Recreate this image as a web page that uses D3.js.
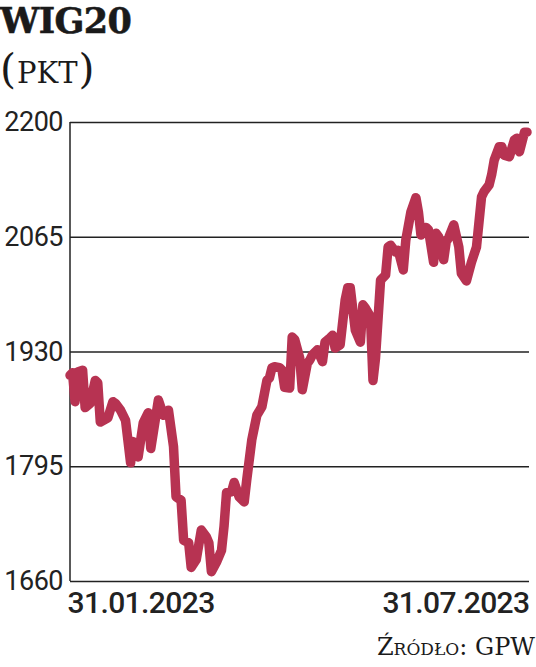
<!DOCTYPE html>
<html>
<head>
<meta charset="utf-8">
<script src="https://cdn.jsdelivr.net/npm/d3@7"></script>
<style>
html,body{margin:0;padding:0;background:#fff;}
svg{display:block;}
</style>
</head>
<body>
<svg id="chart" width="536" height="667"></svg>
<script>
const title = "WIG20";
const unit = "PKT";
const source = "Źródło: GPW";
const yTicks = [1660, 1795, 1930, 2065, 2200];
const xTickLabels = ["2023-01-31", "2023-07-31"];
const dates = [
"2023-01-31","2023-02-01","2023-02-02","2023-02-03","2023-02-05","2023-02-06","2023-02-08","2023-02-10","2023-02-11","2023-02-12",
"2023-02-15","2023-02-17","2023-02-18","2023-02-20","2023-02-22","2023-02-24","2023-02-25","2023-02-26","2023-02-27","2023-03-01",
"2023-03-03","2023-03-04","2023-03-07","2023-03-09","2023-03-11","2023-03-13","2023-03-14","2023-03-16","2023-03-17","2023-03-19",
"2023-03-20","2023-03-22","2023-03-24","2023-03-26","2023-03-27","2023-03-28","2023-03-30","2023-04-01","2023-04-02","2023-04-03",
"2023-04-05","2023-04-06","2023-04-08","2023-04-10","2023-04-11","2023-04-13","2023-04-15","2023-04-17","2023-04-19","2023-04-20",
"2023-04-21","2023-04-22","2023-04-24","2023-04-25","2023-04-26","2023-04-28","2023-04-29","2023-04-30","2023-05-02","2023-05-03",
"2023-05-05","2023-05-06","2023-05-07","2023-05-09","2023-05-11","2023-05-12","2023-05-14","2023-05-15","2023-05-16","2023-05-18",
"2023-05-20","2023-05-21","2023-05-22","2023-05-24","2023-05-26","2023-05-27","2023-05-28","2023-05-30","2023-05-31","2023-06-01",
"2023-06-03","2023-06-05","2023-06-06","2023-06-07","2023-06-09","2023-06-10","2023-06-12","2023-06-13","2023-06-15","2023-06-17",
"2023-06-18","2023-06-19","2023-06-21","2023-06-22","2023-06-24","2023-06-25","2023-06-26","2023-06-28","2023-06-29","2023-06-30",
"2023-07-02","2023-07-04","2023-07-05","2023-07-07","2023-07-09","2023-07-11","2023-07-13","2023-07-14","2023-07-16","2023-07-17",
"2023-07-18","2023-07-20","2023-07-21","2023-07-22","2023-07-24","2023-07-26","2023-07-27","2023-07-28","2023-07-30","2023-07-31"
];
const values = [
1902,1905,1871,1906,1908,1864,1869,1896,1893,1847,
1852,1871,1869,1861,1849,1799,1824,1822,1806,1846,
1858,1816,1873,1855,1861,1818,1759,1755,1708,1705,
1676,1685,1720,1712,1705,1671,1682,1696,1724,1764,
1765,1776,1759,1753,1779,1826,1855,1865,1896,1899,
1911,1912,1911,1908,1888,1887,1947,1944,1922,1885,
1916,1920,1926,1932,1918,1941,1946,1949,1934,1938,
1991,2005,2005,1955,1941,1985,1981,1971,1896,1922,
2014,2020,2053,2055,2047,2049,2026,2061,2094,2111,
2094,2067,2076,2073,2035,2069,2065,2038,2059,2064,
2079,2053,2022,2013,2035,2053,2112,2118,2126,2138,
2155,2171,2171,2161,2159,2179,2181,2165,2188,2188
];

(function () {
const parse = d3.timeParse("%Y-%m-%d");
const fmt = d3.timeFormat("%d.%m.%Y");
const data = dates.map((d, i) => ({date: parse(d), value: values[i]}));

const svg = d3.select("#chart");
const mLeft = 70, mRight = 529, mTop = 122, mBottom = 581;

const x = d3.scaleTime()
  .domain([parse(xTickLabels[0]), parse(xTickLabels[1])])
  .range([mLeft, mRight - 2]);
const y = d3.scaleLinear()
  .domain([yTicks[0], yTicks[yTicks.length - 1]])
  .range([mBottom, mTop]);

// Title
svg.append("text")
  .attr("x", 0).attr("y", 33)
  .attr("font-family", "DejaVu Serif")
  .attr("font-weight", "bold")
  .attr("font-size", 35)
  .attr("fill", "#1a1a1a")
  .attr("stroke", "#1a1a1a")
  .attr("stroke-width", 0.6)
  .attr("letter-spacing", -0.6)
  .text(title);

const sub = svg.append("text")
  .attr("x", 0).attr("y", 83)
  .attr("font-family", "DejaVu Serif")
  .attr("fill", "#1a1a1a");
sub.append("tspan").attr("font-size", 41).text("(");
sub.append("tspan").attr("font-size", 29).attr("dx", 1).text(unit);
sub.append("tspan").attr("font-size", 41).attr("dx", 1).text(")");

// Y axis with gridlines
const yAxis = d3.axisLeft(y)
  .tickValues(yTicks)
  .tickSize(-(mRight - mLeft))
  .tickPadding(7)
  .tickFormat(d3.format("d"));
const gy = svg.append("g")
  .attr("transform", `translate(${mLeft},0)`)
  .call(yAxis);
gy.select(".domain").remove();
gy.selectAll(".tick line").attr("stroke", "#222").attr("stroke-width", 1.5);
gy.selectAll(".tick text")
  .attr("font-family", "Roboto")
  .attr("font-size", 27)
  .attr("fill", "#222")
  .attr("letter-spacing", -0.5);

// Left vertical axis line
svg.append("line")
  .attr("x1", mLeft).attr("x2", mLeft)
  .attr("y1", y(yTicks[yTicks.length - 1])).attr("y2", y(yTicks[0]))
  .attr("stroke", "#222").attr("stroke-width", 1.5);

// X axis labels
const xAxis = d3.axisBottom(x)
  .tickValues(xTickLabels.map(parse))
  .tickSize(0)
  .tickPadding(9)
  .tickFormat(fmt);
const gx = svg.append("g")
  .attr("transform", `translate(0,${mBottom})`)
  .call(xAxis);
gx.select(".domain").remove();
gx.selectAll(".tick text")
  .attr("font-family", "Roboto")
  .attr("font-weight", 500)
  .attr("font-size", 30)
  .attr("fill", "#222")
  .attr("letter-spacing", -0.6)
  .attr("dy", "0.75em")
  .attr("text-anchor", (d, i) => i === 0 ? "start" : "end")
  .attr("dx", (d, i) => i === 0 ? -3 : 2);

// Line
const line = d3.line()
  .x(d => x(d.date))
  .y(d => y(d.value));
svg.append("path")
  .datum(data)
  .attr("d", line)
  .attr("fill", "none")
  .attr("stroke", "#b73352")
  .attr("stroke-width", 9.5)
  .attr("stroke-linejoin", "round")
  .attr("stroke-linecap", "round");

// Source
svg.append("text")
  .attr("x", 535).attr("y", 655)
  .attr("text-anchor", "end")
  .attr("font-family", "DejaVu Serif")
  .attr("font-size", 24)
  .attr("font-variant", "small-caps")
  .attr("fill", "#1a1a1a")
  .text(source);
})();
</script>
</body>
</html>
